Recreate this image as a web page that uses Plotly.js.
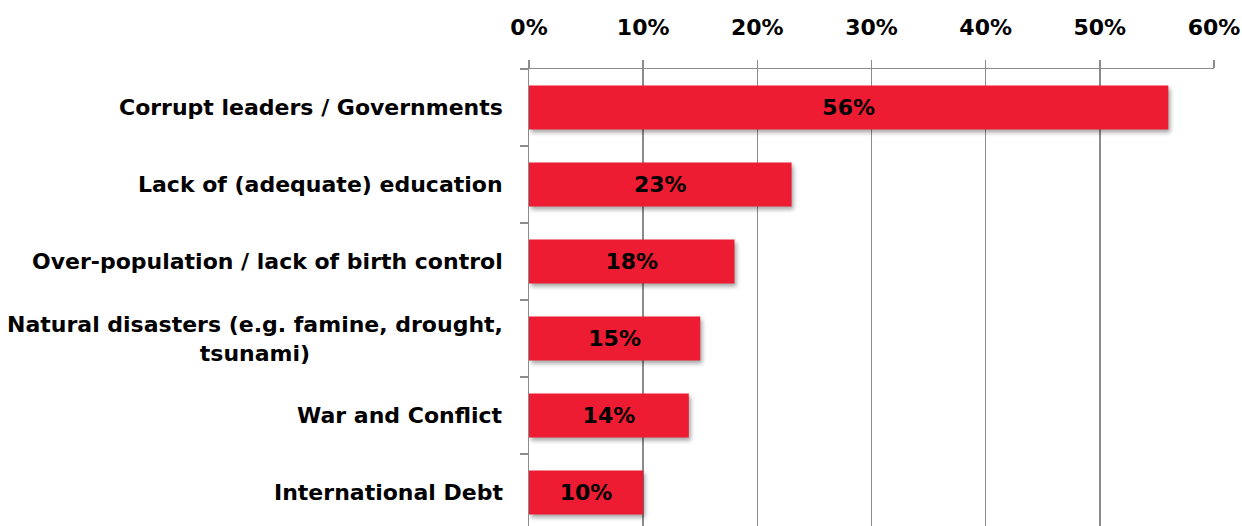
<!DOCTYPE html>
<html>
<head>
<meta charset="utf-8">
<script src="https://cdn.plot.ly/plotly-3.0.1.min.js"></script>
<style>
html,body{margin:0;padding:0;background:#fff;}
#chart{width:1242px;height:526px;}
.trace.bars .point path{filter: drop-shadow(2px 3px 2px rgba(0,0,0,0.35));}
</style>
</head>
<body>
<div id="chart"></div>
<script>
var categories = [
  "Corrupt leaders / Governments",
  "Lack of (adequate) education",
  "Over-population / lack of birth control",
  "Natural disasters (e.g. famine, drought,<br>tsunami)",
  "War and Conflict",
  "International Debt"
];
var values = [56, 23, 18, 15, 14, 10];
var tickValues = [0, 10, 20, 30, 40, 50, 60];
var tickLabels = ["0%", "10%", "20%", "30%", "40%", "50%", "60%"];

var FONT = "'DejaVu Sans', Arial, sans-serif";
var GRID = "#8c8c8c";

var trace = {
  type: "bar",
  orientation: "h",
  x: values,
  y: categories,
  marker: {color: "#ED1C33", line: {width: 0}},
  text: values.map(function(v){ return v + "%"; }),
  textposition: "inside",
  insidetextanchor: "middle",
  textangle: 0,
  textfont: {family: FONT, size: 22, color: "#000000", weight: "bold"},
  hoverinfo: "skip",
  cliponaxis: false
};

var annotations = categories.map(function(c){
  return {
    xref: "x", yref: "y", x: 0, y: c,
    text: c, showarrow: false,
    xanchor: "right", yanchor: "middle", align: "center",
    xshift: -24,
    font: {family: FONT, size: 22, color: "#000000", weight: "bold"}
  };
});

var layout = {
  width: 1242, height: 526,
  margin: {l: 529, r: 28, t: 69, b: 0, pad: 0},
  paper_bgcolor: "#ffffff",
  plot_bgcolor: "#ffffff",
  showlegend: false,
  bargap: 0.43,
  xaxis: {
    side: "top",
    range: [0, 60],
    tickvals: tickValues,
    ticktext: tickLabels,
    showgrid: true, gridcolor: GRID, gridwidth: 1.5,
    showline: true, linecolor: GRID, linewidth: 1.5,
    ticks: "outside", ticklen: 8, tickcolor: GRID, tickwidth: 1.5,
    ticklabelstandoff: 16,
    tickfont: {family: FONT, size: 22, color: "#000000", weight: "bold"},
    zeroline: false, fixedrange: true
  },
  yaxis: {
    type: "category",
    categoryorder: "array",
    categoryarray: categories,
    range: [5.435, -0.5],
    showticklabels: false,
    showgrid: false,
    showline: true, linecolor: GRID, linewidth: 1.5,
    ticks: "outside", ticklen: 8, tickcolor: GRID, tickwidth: 1.5,
    tickson: "boundaries",
    zeroline: false, fixedrange: true
  },
  annotations: annotations
};

Plotly.newPlot("chart", [trace], layout, {displayModeBar: false, staticPlot: true});
</script>
</body>
</html>
